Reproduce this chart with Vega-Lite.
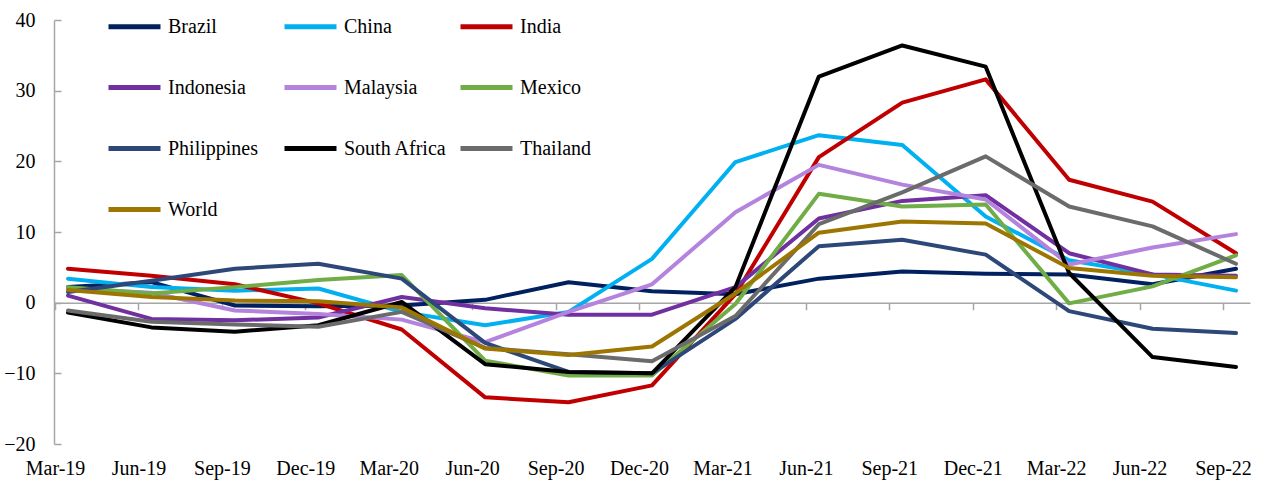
{
  "$schema": "https://vega.github.io/schema/vega-lite/v6.json",
  "width": 1196,
  "height": 424,
  "autosize": "none",
  "padding": {"left": 54, "top": 20, "right": 29, "bottom": 40},
  "background": "white",
  "config": {
    "view": {"stroke": null},
    "font": "Liberation Serif"
  },
  "datasets": {
    "growth": [
      {"q":"Mar-19","c":"Brazil","v":2.2},{"q":"Jun-19","c":"Brazil","v":2.9},{"q":"Sep-19","c":"Brazil","v":-0.4},{"q":"Dec-19","c":"Brazil","v":-0.5},{"q":"Mar-20","c":"Brazil","v":-0.4},{"q":"Jun-20","c":"Brazil","v":0.4},{"q":"Sep-20","c":"Brazil","v":2.9},{"q":"Dec-20","c":"Brazil","v":1.6},{"q":"Mar-21","c":"Brazil","v":1.2},{"q":"Jun-21","c":"Brazil","v":3.4},{"q":"Sep-21","c":"Brazil","v":4.4},{"q":"Dec-21","c":"Brazil","v":4.1},{"q":"Mar-22","c":"Brazil","v":4.0},{"q":"Jun-22","c":"Brazil","v":2.6},{"q":"Sep-22","c":"Brazil","v":4.8},
      {"q":"Mar-19","c":"China","v":3.4},{"q":"Jun-19","c":"China","v":2.2},{"q":"Sep-19","c":"China","v":1.7},{"q":"Dec-19","c":"China","v":2.0},{"q":"Mar-20","c":"China","v":-1.3},{"q":"Jun-20","c":"China","v":-3.2},{"q":"Sep-20","c":"China","v":-1.3},{"q":"Dec-20","c":"China","v":6.2},{"q":"Mar-21","c":"China","v":19.9},{"q":"Jun-21","c":"China","v":23.7},{"q":"Sep-21","c":"China","v":22.3},{"q":"Dec-21","c":"China","v":12.2},{"q":"Mar-22","c":"China","v":6.0},{"q":"Jun-22","c":"China","v":4.0},{"q":"Sep-22","c":"China","v":1.7},
      {"q":"Mar-19","c":"India","v":4.8},{"q":"Jun-19","c":"India","v":3.8},{"q":"Sep-19","c":"India","v":2.6},{"q":"Dec-19","c":"India","v":-0.1},{"q":"Mar-20","c":"India","v":-3.8},{"q":"Jun-20","c":"India","v":-13.4},{"q":"Sep-20","c":"India","v":-14.1},{"q":"Dec-20","c":"India","v":-11.7},{"q":"Mar-21","c":"India","v":1.2},{"q":"Jun-21","c":"India","v":20.6},{"q":"Sep-21","c":"India","v":28.3},{"q":"Dec-21","c":"India","v":31.6},{"q":"Mar-22","c":"India","v":17.4},{"q":"Jun-22","c":"India","v":14.3},{"q":"Sep-22","c":"India","v":7.0},
      {"q":"Mar-19","c":"Indonesia","v":1.0},{"q":"Jun-19","c":"Indonesia","v":-2.3},{"q":"Sep-19","c":"Indonesia","v":-2.5},{"q":"Dec-19","c":"Indonesia","v":-2.1},{"q":"Mar-20","c":"Indonesia","v":0.8},{"q":"Jun-20","c":"Indonesia","v":-0.8},{"q":"Sep-20","c":"Indonesia","v":-1.7},{"q":"Dec-20","c":"Indonesia","v":-1.7},{"q":"Mar-21","c":"Indonesia","v":2.2},{"q":"Jun-21","c":"Indonesia","v":11.9},{"q":"Sep-21","c":"Indonesia","v":14.4},{"q":"Dec-21","c":"Indonesia","v":15.2},{"q":"Mar-22","c":"Indonesia","v":7.0},{"q":"Jun-22","c":"Indonesia","v":4.0},{"q":"Sep-22","c":"Indonesia","v":3.8},
      {"q":"Mar-19","c":"Malaysia","v":2.0},{"q":"Jun-19","c":"Malaysia","v":1.4},{"q":"Sep-19","c":"Malaysia","v":-1.1},{"q":"Dec-19","c":"Malaysia","v":-1.6},{"q":"Mar-20","c":"Malaysia","v":-2.4},{"q":"Jun-20","c":"Malaysia","v":-5.6},{"q":"Sep-20","c":"Malaysia","v":-1.3},{"q":"Dec-20","c":"Malaysia","v":2.6},{"q":"Mar-21","c":"Malaysia","v":12.8},{"q":"Jun-21","c":"Malaysia","v":19.5},{"q":"Sep-21","c":"Malaysia","v":16.7},{"q":"Dec-21","c":"Malaysia","v":14.6},{"q":"Mar-22","c":"Malaysia","v":5.4},{"q":"Jun-22","c":"Malaysia","v":7.8},{"q":"Sep-22","c":"Malaysia","v":9.7},
      {"q":"Mar-19","c":"Mexico","v":2.2},{"q":"Jun-19","c":"Mexico","v":1.3},{"q":"Sep-19","c":"Mexico","v":2.2},{"q":"Dec-19","c":"Mexico","v":3.2},{"q":"Mar-20","c":"Mexico","v":3.9},{"q":"Jun-20","c":"Mexico","v":-8.2},{"q":"Sep-20","c":"Mexico","v":-10.3},{"q":"Dec-20","c":"Mexico","v":-10.3},{"q":"Mar-21","c":"Mexico","v":-0.2},{"q":"Jun-21","c":"Mexico","v":15.4},{"q":"Sep-21","c":"Mexico","v":13.6},{"q":"Dec-21","c":"Mexico","v":13.9},{"q":"Mar-22","c":"Mexico","v":-0.1},{"q":"Jun-22","c":"Mexico","v":2.3},{"q":"Sep-22","c":"Mexico","v":6.7},
      {"q":"Mar-19","c":"Philippines","v":1.5},{"q":"Jun-19","c":"Philippines","v":3.1},{"q":"Sep-19","c":"Philippines","v":4.8},{"q":"Dec-19","c":"Philippines","v":5.5},{"q":"Mar-20","c":"Philippines","v":3.4},{"q":"Jun-20","c":"Philippines","v":-5.7},{"q":"Sep-20","c":"Philippines","v":-9.8},{"q":"Dec-20","c":"Philippines","v":-10.0},{"q":"Mar-21","c":"Philippines","v":-2.3},{"q":"Jun-21","c":"Philippines","v":8.0},{"q":"Sep-21","c":"Philippines","v":8.9},{"q":"Dec-21","c":"Philippines","v":6.8},{"q":"Mar-22","c":"Philippines","v":-1.2},{"q":"Jun-22","c":"Philippines","v":-3.7},{"q":"Sep-22","c":"Philippines","v":-4.3},
      {"q":"Mar-19","c":"South Africa","v":-1.4},{"q":"Jun-19","c":"South Africa","v":-3.5},{"q":"Sep-19","c":"South Africa","v":-4.1},{"q":"Dec-19","c":"South Africa","v":-3.2},{"q":"Mar-20","c":"South Africa","v":0.1},{"q":"Jun-20","c":"South Africa","v":-8.7},{"q":"Sep-20","c":"South Africa","v":-9.8},{"q":"Dec-20","c":"South Africa","v":-10.0},{"q":"Mar-21","c":"South Africa","v":2.2},{"q":"Jun-21","c":"South Africa","v":32.0},{"q":"Sep-21","c":"South Africa","v":36.4},{"q":"Dec-21","c":"South Africa","v":33.4},{"q":"Mar-22","c":"South Africa","v":4.2},{"q":"Jun-22","c":"South Africa","v":-7.7},{"q":"Sep-22","c":"South Africa","v":-9.1},
      {"q":"Mar-19","c":"Thailand","v":-1.1},{"q":"Jun-19","c":"Thailand","v":-2.7},{"q":"Sep-19","c":"Thailand","v":-3.1},{"q":"Dec-19","c":"Thailand","v":-3.4},{"q":"Mar-20","c":"Thailand","v":-1.3},{"q":"Jun-20","c":"Thailand","v":-6.4},{"q":"Sep-20","c":"Thailand","v":-7.3},{"q":"Dec-20","c":"Thailand","v":-8.3},{"q":"Mar-21","c":"Thailand","v":-1.9},{"q":"Jun-21","c":"Thailand","v":11.1},{"q":"Sep-21","c":"Thailand","v":15.6},{"q":"Dec-21","c":"Thailand","v":20.7},{"q":"Mar-22","c":"Thailand","v":13.6},{"q":"Jun-22","c":"Thailand","v":10.8},{"q":"Sep-22","c":"Thailand","v":5.5},
      {"q":"Mar-19","c":"World","v":1.8},{"q":"Jun-19","c":"World","v":0.8},{"q":"Sep-19","c":"World","v":0.3},{"q":"Dec-19","c":"World","v":0.2},{"q":"Mar-20","c":"World","v":-0.7},{"q":"Jun-20","c":"World","v":-6.5},{"q":"Sep-20","c":"World","v":-7.4},{"q":"Dec-20","c":"World","v":-6.2},{"q":"Mar-21","c":"World","v":1.3},{"q":"Jun-21","c":"World","v":9.9},{"q":"Sep-21","c":"World","v":11.5},{"q":"Dec-21","c":"World","v":11.2},{"q":"Mar-22","c":"World","v":4.9},{"q":"Jun-22","c":"World","v":3.8},{"q":"Sep-22","c":"World","v":3.6}
    ]
  },
  "data": {"name": "growth"},
  "mark": {"type": "line", "strokeWidth": 4, "strokeJoin": "round", "strokeCap": "round"},
  "encoding": {
    "x": {
      "field": "q", "type": "ordinal",
      "scale": {"type": "point", "padding": 0.168,
        "domain": ["Mar-19","Jun-19","Sep-19","Dec-19","Mar-20","Jun-20","Sep-20","Dec-20","Mar-21","Jun-21","Sep-21","Dec-21","Mar-22","Jun-22","Sep-22"]},
      "axis": {
        "title": null, "orient": "bottom", "offset": -141.3,
        "domainColor": "#A6A6A6", "domainWidth": 1.5,
        "tickColor": "#A6A6A6", "tickWidth": 1.5, "tickSize": 7, "tickOffset": -13,
        "labelPadding": 149, "labelAngle": 0,
        "labelFont": "Liberation Serif", "labelFontSize": 20, "labelColor": "#000000",
        "labelOverlap": false, "grid": false
      }
    },
    "y": {
      "field": "v", "type": "quantitative",
      "scale": {"domain": [-20, 40], "nice": false, "zero": false},
      "axis": {
        "title": null, "values": [-20,-10,0,10,20,30,40],
        "domainColor": "#A6A6A6", "domainWidth": 1.5,
        "tickColor": "#A6A6A6", "tickWidth": 1.5, "tickSize": -7,
        "labelPadding": 26,
        "labelFont": "Liberation Serif", "labelFontSize": 20, "labelColor": "#000000",
        "grid": false
      }
    },
    "color": {
      "field": "c", "type": "nominal",
      "scale": {
        "domain": ["Brazil","China","India","Indonesia","Malaysia","Mexico","Philippines","South Africa","Thailand","World"],
        "range": ["#002060","#00B0F0","#C00000","#7030A0","#B383DE","#70AD47","#2E4779","#000000","#6B6B6B","#9C7600"]
      },
      "legend": {
        "title": null, "orient": "none", "legendX": 52, "legendY": -22,
        "direction": "horizontal",
        "columns": 3, "gridAlign": "all", "columnPadding": 3, "rowPadding": 22,
        "padding": 0,
        "symbolType": "stroke", "symbolSize": 2704, "symbolStrokeWidth": 5,
        "labelOffset": 5, "labelFont": "Liberation Serif", "labelFontSize": 20,
        "labelColor": "#000000", "labelLimit": 300
      }
    }
  }
}
